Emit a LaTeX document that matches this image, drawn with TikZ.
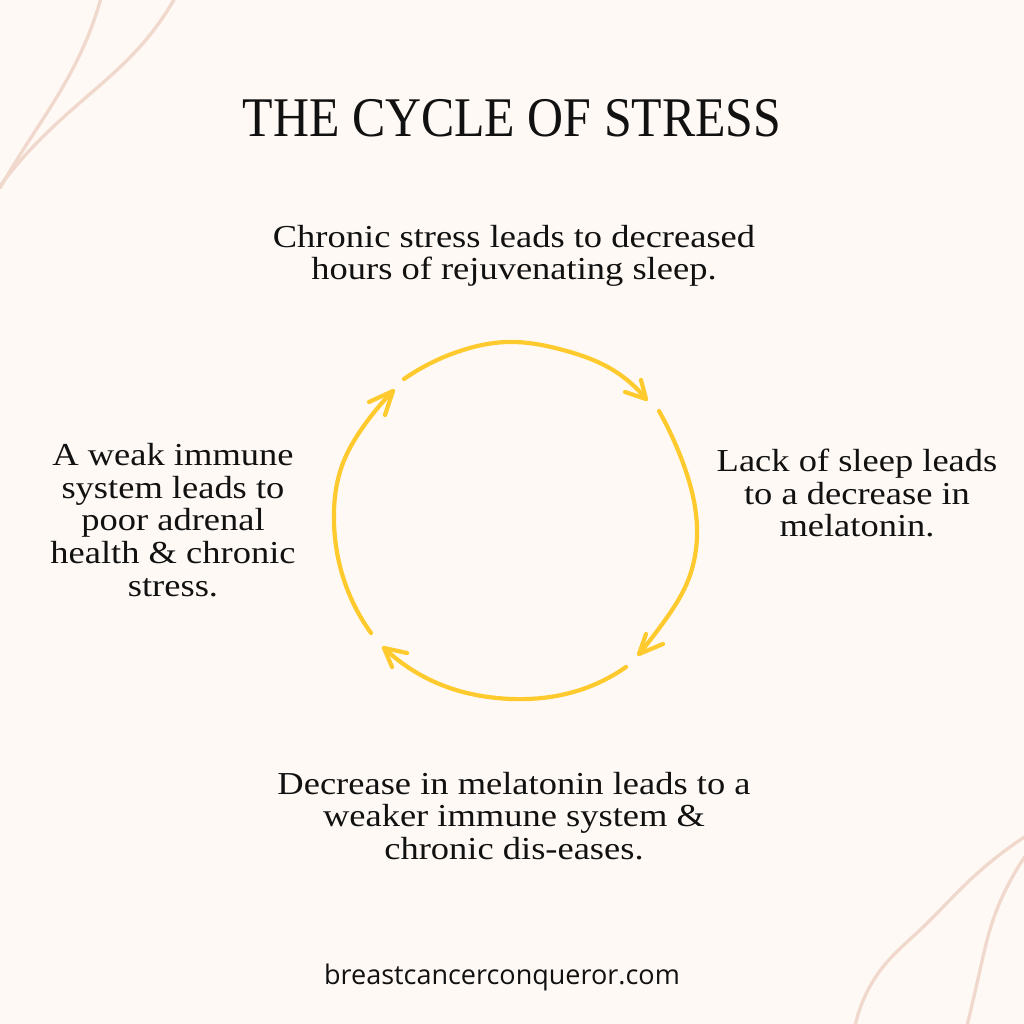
\documentclass[tikz,border=0pt]{standalone}
\usepackage{fontspec}
\usetikzlibrary{hobby}
\setmainfont{Liberation Serif}
\newfontfamily\bodyfont[FakeStretch=1.14]{Liberation Serif}
\newfontfamily\titlefont[FakeStretch=0.89]{Liberation Serif}
\newfontfamily\footfont{Open Sans}
\definecolor{bgc}{HTML}{FEF9F4}
\definecolor{pinkline}{HTML}{F1D8CD}
\definecolor{cyc}{HTML}{FFCA2E}
\definecolor{ink}{HTML}{111111}
\tikzset{
  body/.style={align=center, text=ink, font=\bodyfont\fontsize{32}{32.7}\selectfont, inner sep=0pt},
  cycarc/.style={draw=cyc, line width=4.2pt, line cap=round, line join=round},
  deco/.style={draw=pinkline, line width=3.3pt, line cap=round},
}
\begin{document}
\begin{tikzpicture}[x=1pt,y=-1pt,use Hobby shortcut]
\useasboundingbox (0,0) rectangle (1024,1024);
\fill[bgc] (0,0) rectangle (1024,1024);
% corner decorations
\draw[deco] (101,-2) .. (82,50) .. (55,100) .. (23,150) .. (0,188);
\draw[deco] (175,-2) .. (137,50) .. (83,100) .. (30,150) .. (0,186);
\draw[deco] (1026,836) .. (970,880) .. (920,930) .. (887,962) .. (868,990) .. (855,1026);
\draw[deco] (1026,855) .. (1007,887) .. (993,920) .. (980,970) .. (967,1026);
% title
\node[inner sep=0pt, text=ink, font=\titlefont\fontsize{56}{56}\selectfont] (title) at (512,118) {THE CYCLE OF STRESS};
% texts
\node[body] (top) at (514,256) {Chronic stress leads to decreased\\hours of rejuvenating sleep.};
\node[body] (right) at (857,493) {Lack of sleep leads\\to a decrease in\\melatonin.};
\node[body] (left) at (173,520) {A weak immune\\system leads to\\poor adrenal\\health \& chronic\\stress.};
\node[body] (bottom) at (514,816) {Decrease in melatonin leads to a\\weaker immune system \&\\chronic dis-eases.};
\node[inner sep=0pt, text=ink, font=\footfont\fontsize{27}{27}\selectfont] (site) at (502,977) {breastcancerconqueror.com};
% cycle arcs
\coordinate (t0) at (404,379);
\coordinate (t1) at (646,399);
\coordinate (r0) at (659,411);
\coordinate (r1) at (639,654);
\coordinate (b0) at (626,667);
\coordinate (b1) at (384,648);
\coordinate (l0) at (371,633);
\coordinate (l1) at (393,391);
\draw[cycarc] (t0) .. (463,350) .. (507,342) .. (563,350) .. (613,370) .. (t1);
\draw[cycarc] (t1) -- (641,380) (t1) -- (625,392);
\draw[cycarc] (r0) .. (683,463) .. (697,527) .. (687,583) .. (663,623) .. (r1);
\draw[cycarc] (r1) -- (646,634) (r1) -- (663,644);
\draw[cycarc] (b0) .. (580,690) .. (497,698) .. (447,687) .. (b1);
\draw[cycarc] (b1) -- (407,653) (b1) -- (392,667);
\draw[cycarc] (l0) .. (343,577) .. (334,523) .. (343,463) .. (363,427) .. (l1);
\draw[cycarc] (l1) -- (369,402) (l1) -- (385,415);
\end{tikzpicture}
\end{document}
